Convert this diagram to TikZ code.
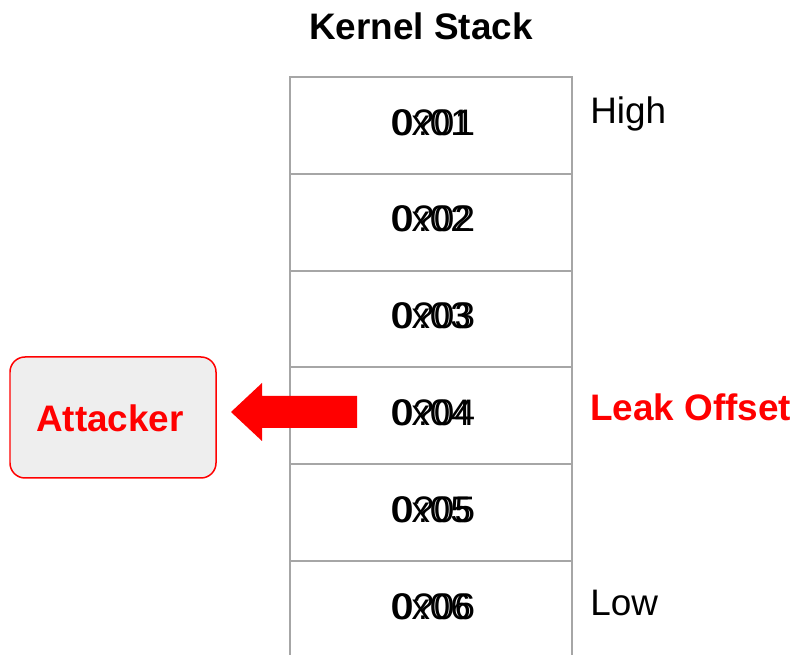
\documentclass[tikz,border=0pt]{standalone}
\usepackage{fontspec}
\setmainfont{Liberation Sans}
\usetikzlibrary{calc,positioning}
\definecolor{stackgray}{HTML}{A6A6A6}
\definecolor{boxgray}{HTML}{EEEEEE}
\definecolor{leakred}{HTML}{FF0000}
\newcommand{\bigtext}{\fontsize{21}{25}\selectfont}

\begin{document}
\begin{tikzpicture}[x=0.02cm, y=-0.02cm,
		cell/.style={draw=stackgray, line width=0.4mm, minimum width=5.64cm, minimum height=1.936cm, inner sep=0pt},
		hex/.style={font=\bigtext, inner sep=0pt},
		side/.style={font=\bigtext, inner sep=0pt, anchor=base west}]
			%%%%% START %%%%%
			\useasboundingbox (0, 0) rectangle (796, 655);
			
			\node[font=\bigtext\bfseries, inner sep=0pt, anchor=base] (title) at (421, 40) {Kernel Stack};
			
			% stack cells
			\foreach \i in {1,...,5}
				\node[cell] (cell\i) at (431, {77 + 96.8*(\i - 0.5)}) {};
			\draw[line width=0.4mm, color=stackgray] (290, 655) -- (290, 561) -- (572, 561) -- (572, 655);
			\coordinate (cell6) at (431, 609.4);
			
			% values, two texts laid over each other
			\foreach \i in {1,...,6} {
				\node[hex] (val\i) at ($(cell\i) + (0, -3)$) {0x0\i};
				\node[hex] (alt\i) at ($(cell\i) + (3, -3)$) {0?0\i};
			}
			
			\node[side] (high) at (590, 124) {High};
			\node[side] (low) at (590, 616) {Low};
			\node[side, color=leakred, font=\bigtext\bfseries] (leak) at (590, 421) {Leak Offset};
			
			\draw[line width=0.3mm, color=leakred, fill=boxgray, rounded corners=0.3cm] (10, 357) rectangle (216, 478);
			\node[font=\bigtext\bfseries, color=leakred, inner sep=0pt] (attacker) at (110, 418) {Attacker};
			
			\fill[color=leakred] (357, 396) -- (262, 396) -- (262, 383) -- (231, 412) -- (262, 441) -- (262, 428) -- (357, 428) -- cycle;
			
			%%%%% END %%%%%
		\end{tikzpicture}
\end{document}
